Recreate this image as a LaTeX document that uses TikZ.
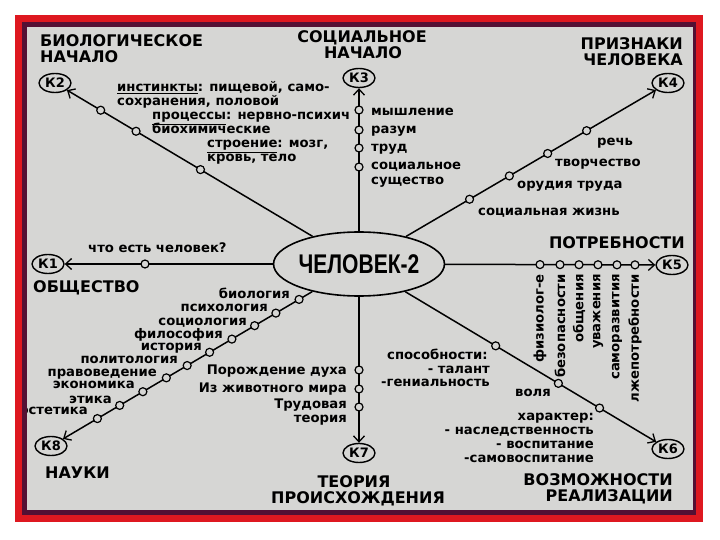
\documentclass[tikz,border=0pt]{standalone}
\usepackage{fontspec}
\setmainfont{DejaVu Sans}
\newfontfamily\narrowfont{Liberation Sans}
\usepackage{graphicx}
\usetikzlibrary{arrows, arrows.meta, calc, positioning, shapes.geometric}

\definecolor{framered}{RGB}{222,24,32}
\definecolor{framedark}{RGB}{84,16,52}
\definecolor{paper}{RGB}{214,214,212}

\tikzset{
  knode/.style={ellipse, draw, line width=1.4pt, inner sep=0pt, minimum width=32pt,
    minimum height=19pt, fill=paper, font=\bfseries\fontsize{13}{13}\selectfont},
  dot/.style={circle, draw, line width=1.2pt, fill=paper, inner sep=0pt, minimum size=8pt},
  lbl/.style={inner sep=0pt, font=\bfseries\fontsize{13.2}{14}\selectfont},
  title/.style={inner sep=0pt, font=\bfseries\fontsize{16}{16}\selectfont},
}

\begin{document}
\begin{tikzpicture}[x=1pt,y=-1pt,>={Straight Barb[length=6pt,width=11pt,line width=1.3pt]},
  every edge/.append style={line width=1.5pt,->}]
\useasboundingbox (0,0) rectangle (720,540);

% Red frame round the sheet.
\fill[framered] (15,15) rectangle (703,522);
\fill[framedark] (22,22) rectangle (696,515);
\fill[paper] (27,27) rectangle (693,510);

\begin{scope}
\clip (27,27) rectangle (693,510);

\node[ellipse, draw, line width=1.6pt, inner sep=0pt, minimum width=150pt, minimum height=64pt,
  fill=paper] (c) at (359,264) {\narrowfont\bfseries\fontsize{27}{27}\selectfont\scalebox{0.78}[1]{ЧЕЛОВЕК-2}};

\node[knode] (k1) at (48,264) {К1};
\node[knode] (k2) at (55,83)  {К2};
\node[knode] (k3) at (359,78) {К3};
\node[knode] (k4) at (668,83) {К4};
\node[knode] (k5) at (672,265) {К5};
\node[knode] (k6) at (668,449) {К6};
\node[knode] (k7) at (359,453) {К7};
\node[knode] (k8) at (51,446) {К8};

% From the centre out to every K.
\path (c) edge (k1) edge (k2) edge (k3) edge (k4)
          edge (k5) edge (k6) edge (k7) edge (k8);

% Small rings along each line.
\foreach \k/\pts in {k1/{145/264},
    k2/{102/108,138/128,202/167},
    k3/{359/110,359/130,359/148,359/167},
    k4/{588/133,548/154,510/177,470/200},
    k5/{540/265,560/265,579/265,598/265,617/265,635/265},
    k6/{495/347,558/384,599/409},
    k7/{359/370,359/389,359/407},
    k8/{300/301,277/315,256/328,233/341,210/353,188/367,167/379,143/392,120/406,97/418}}
  \foreach \x/\y [count=\i] in \pts
    \node[dot] (\k-\i) at ($(c)!(\x,\y)!(\k)$) {};

% Titles.
\node[title, anchor=base west] (t2a) at (40,47) {БИОЛОГИЧЕСКОЕ};
\node[title, anchor=base west] (t2b) at (40,63) {НАЧАЛО};
\node[title, anchor=base] (t3a) at (362,43) {СОЦИАЛЬНОЕ};
\node[title, anchor=base] (t3b) at (363,59) {НАЧАЛО};
\node[title, anchor=base east] (t4a) at (683,50) {ПРИЗНАКИ};
\node[title, anchor=base east] (t4b) at (683,66) {ЧЕЛОВЕКА};
\node[title, anchor=base west] (t1) at (33,292) {ОБЩЕСТВО};
\node[title, anchor=base east] (t5) at (685,248) {ПОТРЕБНОСТИ};
\node[title, anchor=base east] (t6a) at (673,485) {ВОЗМОЖНОСТИ};
\node[title, anchor=base east] (t6b) at (673,501) {РЕАЛИЗАЦИИ};
\node[title, anchor=base] (t7a) at (354,487) {ТЕОРИЯ};
\node[title, anchor=base] (t7b) at (358,503) {ПРОИСХОЖДЕНИЯ};
\node[title, anchor=base west] (t8) at (45,478) {НАУКИ};

% K2: biological side.
\foreach \x/\y/\t [count=\i] in {117/92/{\underline{инстинкты}: пищевой, само-},
    117/106/{сохранения, половой}, 152/120/{\underline{процессы}: нервно-психич},
    152/134/биохимические, 207/148/{\underline{строение}: мозг,}, 207/162/{кровь, тело}}
  \node[lbl, anchor=base west] (bio\i) at (\x,\y) {\t};

% K3: social side.
\foreach \y/\t [count=\i] in {116/мышление, 134/разум, 152/труд, 170/социальное, 185/существо}
  \node[lbl, anchor=base west] (soc\i) at (371,\y) {\t};

% K4: signs of man.
\foreach \x/\y/\t [count=\i] in {597/146/речь, 555/167/творчество, 517/189/{орудия труда},
    478/215/{социальная жизнь}}
  \node[lbl, anchor=base west] (sign\i) at (\x,\y) {\t};

% K1: society.
\node[lbl, anchor=base west] (q1) at (88,252) {что есть человек?};

% K5: needs, set on end.
\foreach \x/\t [count=\i] in {540/физиолог-е, 560/безопасности, 579/общения, 598/уважения,
    617/саморазвития, 635/лжепотребности}
  \node[lbl, rotate=90, anchor=east] (need\i) at (\x,274) {\t};

% K6: ways of fulfilment.
\node[lbl, anchor=base west] (abl1) at (387,359) {способности:};
\node[lbl, anchor=base east] (abl2) at (490,373) {- талант};
\node[lbl, anchor=base east] (abl3) at (490,386) {-гениальность};
\node[lbl, anchor=base west] (will) at (515,396) {воля};
\foreach \y/\t [count=\i] in {420/характер:, 434/- наследственность, 448/- воспитание,
    462/-самовоспитание}
  \node[lbl, anchor=base east] (chr\i) at (594,\y) {\t};

% K7: theories of origin.
\foreach \y/\t [count=\i] in {374/Порождение духа, 392/Из животного мира, 408/Трудовая, 422/теория}
  \node[lbl, anchor=base east] (orig\i) at (347,\y) {\t};

% K8: sciences.
\foreach \x/\y/\t [count=\i] in {290/298/биология, 268/311/психология, 247/325/социология,
    223/338/философия, 202/350/история, 178/363/политология, 157/376/правоведение,
    135/388/экономика, 112/403/этика, 88/414/эстетика}
  \node[lbl, anchor=base east] (sci\i) at (\x,\y) {\t};
\end{scope}
\end{tikzpicture}
\end{document}
